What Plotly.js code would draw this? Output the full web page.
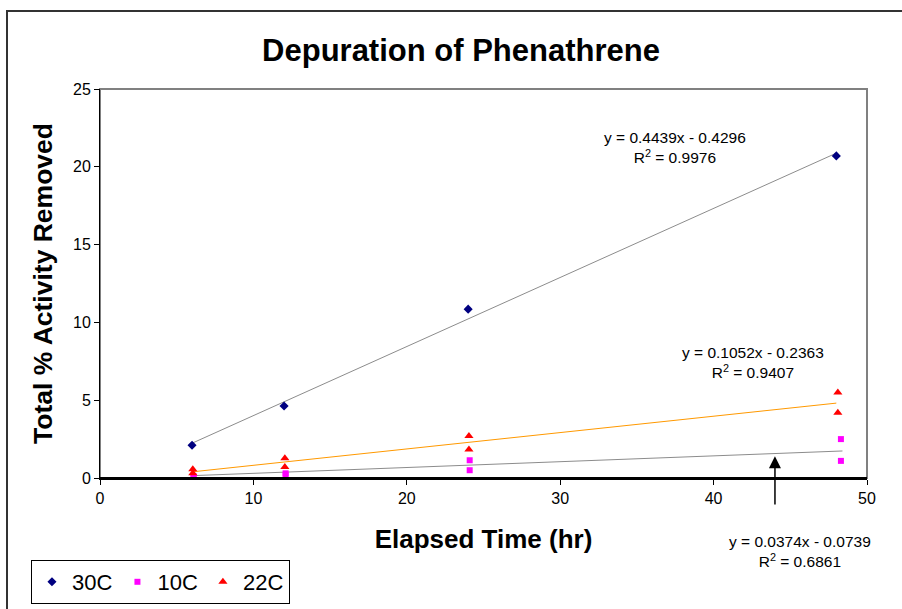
<!DOCTYPE html>
<html>
<head>
<meta charset="utf-8">
<script src="https://cdn.plot.ly/plotly-3.0.1.min.js"></script>
<style>html,body{margin:0;padding:0;background:#fff;}#chart{width:902px;height:609px;}</style>
</head>
<body>
<div id="chart"></div>
<script>
// Data
const time30 = [6, 12, 24, 48];
const act30 = [2.1, 4.63, 10.85, 20.7];
const time10 = [6.1, 6.1, 12.1, 12.1, 24.1, 24.1, 48.3, 48.3];
const act10 = [0.05, 0.12, 0.2, 0.3, 0.5, 1.14, 1.1, 2.5];
const time22 = [6.05, 6.05, 12.05, 12.05, 24.05, 24.05, 48.1, 48.1];
const act22 = [0.3, 0.56, 0.7, 1.27, 1.83, 2.7, 4.2, 5.5];

// Trendline fits (from the chart's equations)
const fitNames = ['30C', '22C', '10C'];
const fitSlope = [0.4439, 0.1052, 0.0374];
const fitIntercept = [-0.4296, -0.2363, -0.0739];
const fitXStart = [6, 6, 6];
const fitXEnd = [48, 48, 48.4];
const fitR2 = ['0.9976', '0.9407', '0.6861'];
const fitColor = ['#8c8c8c', '#ff9900', '#8c8c8c'];

const traces = [];
for (let i = 0; i < fitNames.length; i++) {
  const xs = [fitXStart[i], fitXEnd[i]];
  traces.push({
    x: xs,
    y: xs.map(v => fitSlope[i] * v + fitIntercept[i]),
    mode: 'lines', type: 'scatter', showlegend: false, hoverinfo: 'skip',
    line: {color: fitColor[i], width: 1}
  });
}
traces.push({x: time30, y: act30, name: '30C', mode: 'markers', type: 'scatter',
  marker: {symbol: 'diamond', color: '#000080', size: 7}});
traces.push({x: time10, y: act10, name: '10C', mode: 'markers', type: 'scatter',
  marker: {symbol: 'square', color: '#ff00ff', size: 6}});
traces.push({x: time22, y: act22, name: '22C', mode: 'markers', type: 'scatter',
  marker: {symbol: 'triangle-up', color: '#ff0000', size: 8}});

const fmtEq = i => 'y = ' + fitSlope[i].toFixed(4) + 'x - ' + Math.abs(fitIntercept[i]).toFixed(4);
const eqFont = {family: 'Arial, Liberation Sans, sans-serif', size: 15.5, color: '#000'};

const layout = {
  width: 902, height: 609,
  margin: {l: 100, r: 35, t: 89, b: 131, autoexpand: false},
  paper_bgcolor: '#fff', plot_bgcolor: '#fff',
  font: {family: 'Arial, Liberation Sans, sans-serif', color: '#000'},
  title: {text: '<b>Depuration of Phenathrene</b>', font: {size: 31, color: '#000'},
    x: 461 / 902, xanchor: 'center', y: 1 - 50 / 609, yanchor: 'middle', yref: 'container'},
  xaxis: {range: [0, 50], dtick: 10, showgrid: false, zeroline: false,
    showline: true, linecolor: '#000', linewidth: 2, ticks: 'outside', ticklen: 5,
    tickcolor: '#000', tickfont: {size: 16}, mirror: false,
    title: {text: '<b>Elapsed Time (hr)</b>', font: {size: 26}, standoff: 24}},
  yaxis: {range: [0, 25], dtick: 5, showgrid: false, zeroline: false,
    showline: true, linecolor: '#000', linewidth: 1, ticks: 'outside', ticklen: 5,
    tickcolor: '#000', tickfont: {size: 16},
    title: {text: '<b>Total % Activity Removed</b>', font: {size: 26.5}, standoff: 12}},
  showlegend: true,
  legend: {orientation: 'h', x: -0.09, xanchor: 'left', y: (478 - 582) / 389, yanchor: 'middle',
    bordercolor: '#000', borderwidth: 1, bgcolor: '#fff',
    font: {size: 22}, itemwidth: 30, traceorder: 'normal'},
  shapes: [
    {type: 'rect', xref: 'paper', yref: 'paper', x0: 0, x1: 1, y0: 0, y1: 1,
      line: {color: '#808080', width: 2}, layer: 'below'},
    {type: 'line', xref: 'paper', yref: 'paper', x0: 0, x1: 1, y0: 0, y1: 0,
      line: {color: '#000', width: 2}},
    {type: 'rect', xref: 'paper', yref: 'paper',
      x0: (7 - 100) / 767, x1: 2, y0: -2, y1: (478 - 11) / 389,
      line: {color: '#333', width: 2}, layer: 'below'}
  ],
  annotations: [
    {x: 44, y: 1.4, ax: 44, ay: -1.8, xref: 'x', yref: 'y', axref: 'x', ayref: 'y',
      text: '', showarrow: true, arrowhead: 2, arrowsize: 1.6, arrowwidth: 1.5,
      arrowcolor: '#000'},
    {x: 37.5, y: 19.9, xref: 'x', yref: 'y', text: fmtEq(0) + '<br>R<sup>2</sup> = ' + fitR2[0],
      showarrow: false, font: eqFont, align: 'center', yanchor: 'bottom'},
    {x: 42.6, y: 6.1, xref: 'x', yref: 'y', text: fmtEq(1) + '<br>R<sup>2</sup> = ' + fitR2[1],
      showarrow: false, font: eqFont, align: 'center', yanchor: 'bottom'},
    {x: 45.6, y: (478 - 531) / 389, xref: 'x', yref: 'paper', text: fmtEq(2) + '<br>R<sup>2</sup> = ' + fitR2[2],
      showarrow: false, font: eqFont, align: 'center', yanchor: 'top'}
  ]
};

Plotly.newPlot('chart', traces, layout, {displayModeBar: false, staticPlot: true});
</script>
</body>
</html>
